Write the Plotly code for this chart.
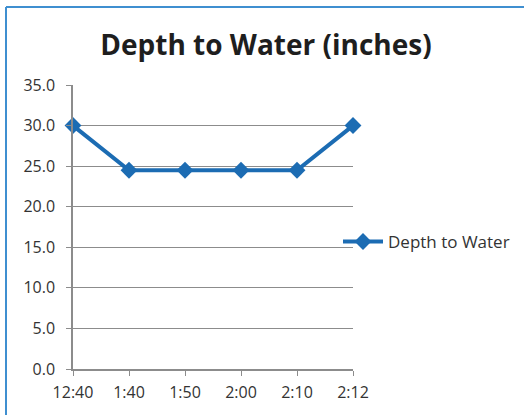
import plotly.graph_objects as go

times = ["12:40", "1:40", "1:50", "2:00", "2:10", "2:12"]
depth = [30.0, 24.5, 24.5, 24.5, 24.5, 30.0]
y_ticks = [0, 5, 10, 15, 20, 25, 30, 35]

W, H = 524, 415
L, R, T, B = 73, 171, 85, 46
pw, ph = W - L - R, H - T - B

def px_x(x):
    return (x - L) / pw

def px_y(y):
    return (H - B - y) / ph

blue = "#1c6cb3"
fig = go.Figure()
fig.add_trace(go.Scatter(
    x=list(range(len(times))), y=depth, mode="lines+markers",
    name="Depth to Water",
    line=dict(color=blue, width=4),
    marker=dict(symbol="diamond", size=13, color=blue),
    cliponaxis=False,
))

fig.update_layout(
    width=W, height=H,
    margin=dict(l=L, r=R, t=T, b=B, autoexpand=False),
    paper_bgcolor="white", plot_bgcolor="white",
    title=dict(text="<b>Depth to Water (inches)</b>", x=266 / W, xanchor="center",
               y=1 - 45 / H, yanchor="middle",
               font=dict(family="Open Sans", size=28, color="#1e1e1e")),
    showlegend=True,
    legend=dict(x=px_x(338), y=px_y(242), xanchor="left", yanchor="middle",
                font=dict(family="Open Sans", size=17, color="#333333"),
                bgcolor="rgba(0,0,0,0)", itemwidth=40),
    font=dict(family="Open Sans", size=16, color="#333333"),
)
fig.update_xaxes(
    tickmode="array", tickvals=list(range(len(times))), ticktext=times,
    range=[0, len(times) - 1], showgrid=False, zeroline=False,
    showline=True, linecolor="#8c8c8c", linewidth=1.5,
    ticks="outside", ticklen=5, tickcolor="#8c8c8c", ticklabelstandoff=3,
)
fig.update_yaxes(
    tickmode="array", tickvals=y_ticks, ticktext=[f"{v:.1f}" for v in y_ticks],
    range=[0, 35], showgrid=True, gridcolor="#8c8c8c", gridwidth=1.2,
    zeroline=False, showline=True, linecolor="#8c8c8c", linewidth=1.5,
    ticks="outside", ticklen=5, tickcolor="#8c8c8c", ticklabelstandoff=8,
)
# chart border (top and left edges visible)
fig.add_shape(type="line", xref="paper", yref="paper",
              x0=px_x(6), x1=px_x(W), y0=px_y(7), y1=px_y(7),
              line=dict(color="#3f8fd0", width=2))
fig.add_shape(type="line", xref="paper", yref="paper",
              x0=px_x(6), x1=px_x(6), y0=px_y(7), y1=px_y(H),
              line=dict(color="#3f8fd0", width=2))

fig.write_html("out.html")
